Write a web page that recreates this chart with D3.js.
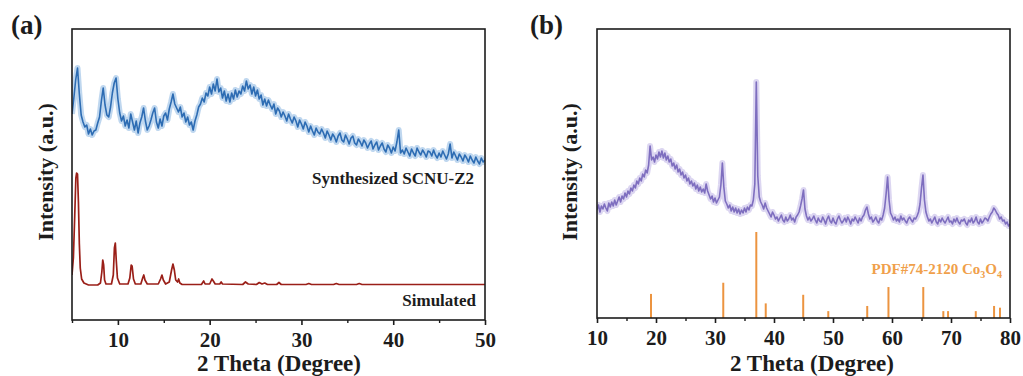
<!DOCTYPE html>
<html>
<head>
<meta charset="utf-8">
<script src="https://cdn.jsdelivr.net/npm/d3@7"></script>
<style>
  body { margin: 0; background: #fff; }
  svg text { font-family: "Liberation Serif", "Times New Roman", serif; font-weight: bold; }
</style>
</head>
<body>
<svg id="chart" width="1023" height="376"></svg>
<script>
// ---------------- Panel (a): SCNU-Z2 ----------------
// Measured pattern, uniform 2θ scan
const scanA = { start: 5, step: 0.2 };
const synthesizedZ2 = [
  206, 222, 240, 252, 226,
  205, 198, 193, 195, 186,
  191, 185, 189, 190, 197,
  203, 219, 232, 215, 205,
  203, 213, 227, 237, 242,
  221, 207, 199, 204, 194,
  200, 192, 206, 198, 190,
  199, 187, 197, 203, 212,
  199, 190, 194, 200, 207,
  212, 198, 192, 201, 194,
  204, 207, 200, 211, 218,
  226, 216, 212, 208, 213,
  203, 207, 198, 203, 195,
  198, 190, 199, 205, 213,
  216, 222, 218, 227, 224,
  233, 226, 236, 229, 241,
  228, 232, 222, 229, 219,
  226, 218, 227, 221, 230,
  223, 229, 226, 234, 229,
  239, 231, 235, 226, 233,
  224, 230, 221, 225, 215,
  221, 214, 220, 215, 211,
  216, 206, 212, 209, 203,
  208, 204, 199, 206, 201,
  197, 203, 199, 193, 200,
  196, 191, 198, 194, 188,
  194, 189, 185, 192, 188,
  186, 191, 187, 182, 189,
  185, 180, 186, 183, 178,
  184, 187, 180, 178, 185,
  181, 176, 182, 184, 177,
  175, 181, 178, 174, 180,
  177, 172, 176, 179, 171,
  175, 178, 170, 174, 177,
  171, 168, 175, 172, 167,
  173, 169, 178, 190, 167,
  170, 166, 172, 168, 164,
  171, 167, 164, 172, 168,
  165, 170, 167, 163, 169,
  168, 164, 170, 165, 162,
  167, 163, 169, 165, 161,
  166, 176, 162, 168, 164,
  160, 166, 163, 159, 165,
  162, 158, 164, 160, 157,
  163, 159, 156, 162, 158,
  160
];

// Simulated pattern from the single-crystal structure
const simulatedTheta = [
  5.0, 5.15, 5.3, 5.42, 5.5, 5.6, 5.7, 5.8, 5.9, 6.05, 6.3, 6.8,
  7.8, 8.1, 8.25, 8.35, 8.45, 8.55, 8.7,
  9.3, 9.5, 9.62, 9.72, 9.82, 9.95, 10.2,
  11.1, 11.3, 11.45, 11.55, 11.7, 11.9,
  12.5, 12.7, 12.82, 12.95, 13.2,
  14.4, 14.65, 14.8, 14.95, 15.2,
  15.6, 15.85, 16.0, 16.15, 16.3, 16.5, 16.62, 16.75, 17.0,
  19.1, 19.35, 19.5, 20.0, 20.25, 20.4, 20.6, 21.1, 21.25, 21.4,
  23.6, 23.9, 24.2, 25.1, 25.4, 25.7, 26.0, 26.3,
  27.3, 27.55, 27.8, 30.5, 30.8, 31.1, 33.5, 33.8, 34.1,
  36.0, 36.3, 36.6, 50.0
];
const simulatedIntensity = [
  45, 62, 105, 142, 147, 146, 118, 76, 52, 41, 37, 35,
  35, 37, 48, 60, 55, 40, 36,
  36, 45, 72, 77, 60, 42, 36,
  36, 42, 55, 54, 41, 36,
  36, 42, 45, 40, 36,
  36, 41, 45, 40, 36,
  38, 50, 56, 50, 40, 38, 41, 37, 35.5,
  35.5, 39, 36, 36, 41, 39, 36, 36, 38, 36,
  35.5, 38, 36, 35.5, 37.5, 36, 37, 35.5,
  35.5, 37.5, 35.5, 35.5, 36.5, 35.5, 35.5, 36.5, 35.5,
  35.5, 36.5, 35.5, 35.5
];
const ticksA = [10, 20, 30, 40, 50];
const minorTicksA = [5, 15, 25, 35, 45];

// ---------------- Panel (b): Co3O4 ----------------
const scanB = { start: 10, step: 0.25 };
const co3o4Pattern = [
  108, 113, 106, 112,   109, 114, 110, 107,   115, 111, 116, 112,
  118, 113, 117, 121,   116, 122, 119, 125,   121, 127, 124, 130,
  127, 133, 130, 137,   134, 140, 137, 144,   141, 148, 145, 153,
  172, 158, 161, 156,   163, 159, 166, 161,   167, 160, 165, 158,
  162, 156, 159, 152,   155, 149, 153, 146,   149, 143, 146, 140,
  143, 137, 140, 134,   137, 132, 135, 129,   133, 127, 131, 126,
  129, 125, 134, 127,   123, 119, 122, 116,   120, 115, 118, 121,
  133, 155, 131, 117,   114, 110, 113, 107,   111, 106, 110, 105,
  109, 104, 108, 105,   110, 106, 111, 108,   113, 112, 118, 134,
  236, 142, 121, 116,   113, 109, 115, 110,   107, 104, 101, 106,
  103,  99, 101,  97,   100, 103,  98,  96,   101,  97,  99, 103,
   98, 100,  96, 101,   103, 106, 112, 119,   128, 109, 102,  98,
  101,  97,  99, 102,    98,  95, 100,  97,    96, 101,  98,  94,
   99, 102,  97,  95,   100,  96,  94,  99,   102,  98,  95,  97,
  100,  96, 101,  98,    94,  99,  97, 101,    98,  95, 100,  97,
  101, 103, 108, 111,   104,  99, 101,  96,    98, 101,  97,  95,
  100,  98, 103, 110,   124, 141, 118, 105,   102,  98, 101,  97,
   99,  96, 102,  98,   100,  97,  95,  99,   101,  98,  96, 100,
   99, 102, 106, 114,   130, 143, 118, 106,   101,  97,  99,  95,
   98, 101,  96,  94,    99,  96, 100,  97,    95,  98, 101,  96,
   97,  94,  99,  96,   100,  96,  94,  98,    97,  99,  95,  93,
   98,  96, 100,  95,    97, 101,  96,  94,    99,  95,  97, 100,
   99,  97, 101, 104,   106, 110, 108, 105,   103,  99, 101,  97,
   98,  94,  96,  92,
   94
];
// Reference pattern PDF#74-2120 (Co3O4), relative intensities
const pdfTheta = [19.15, 31.4, 37.0, 38.6, 44.95, 49.2, 55.8, 59.4, 65.3, 68.7, 69.5, 74.2, 77.3, 78.3];
const pdfIntensity = [28, 41, 100, 17, 27, 8, 14, 36, 36, 8, 8, 8, 14, 12];
const ticksB = [10, 20, 30, 40, 50, 60, 70, 80];
const minorTicksB = [15, 25, 35, 45, 55, 65, 75];

// ---------------- drawing ----------------
const svg = d3.select("#chart");
const ink = "#1c1c1c";

function scanPoints(scan, values) {
  return values.map((v, i) => [scan.start + i * scan.step, v]);
}

function panelFrame(id, box, xDomain, yDomain) {
  const x = d3.scaleLinear().domain(xDomain).range([box.left, box.right]);
  const y = d3.scaleLinear().domain(yDomain).range([box.bottom, box.top]);
  svg.append("clipPath").attr("id", id)
    .append("rect").attr("x", box.left).attr("y", box.top)
    .attr("width", box.right - box.left).attr("height", box.bottom - box.top);
  return { x, y };
}

function drawAxis(box, x, major, minor) {
  const gMinor = svg.append("g").attr("transform", `translate(0,${box.bottom})`)
    .call(d3.axisBottom(x).tickValues(minor).tickSize(3).tickSizeOuter(0).tickFormat(""));
  gMinor.select(".domain").remove();
  gMinor.selectAll("line").attr("stroke", ink).attr("stroke-width", 1.4);

  const g = svg.append("g").attr("transform", `translate(0,${box.bottom})`)
    .call(d3.axisBottom(x).tickValues(major).tickSize(5).tickSizeOuter(0)
      .tickPadding(7).tickFormat(d3.format("d")));
  g.select(".domain").remove();
  g.selectAll("line").attr("stroke", ink).attr("stroke-width", 1.6);
  g.selectAll("text").attr("font-size", 21).attr("fill", ink);
}

function drawBox(box) {
  svg.append("rect").attr("x", box.left).attr("y", box.top)
    .attr("width", box.right - box.left).attr("height", box.bottom - box.top)
    .attr("fill", "none").attr("stroke", ink).attr("stroke-width", 1.6);
}

function noisyLine(clipId, pts, x, y, color, halo) {
  const line = d3.line().x(d => x(d[0])).y(d => y(d[1]));
  const g = svg.append("g").attr("clip-path", `url(#${clipId})`);
  g.append("path").attr("d", line(pts)).attr("fill", "none")
    .attr("stroke", halo).attr("stroke-width", 6).attr("stroke-opacity", 0.4)
    .attr("stroke-linejoin", "round");
  g.append("path").attr("d", line(pts)).attr("fill", "none")
    .attr("stroke", color).attr("stroke-width", 1.6).attr("stroke-linejoin", "round");
}

function titles(box, letter, letterX, xTitleX, yTitleX) {
  svg.append("text").attr("x", letterX).attr("y", 34).attr("font-size", 27)
    .attr("fill", ink).text(letter);
  svg.append("text").attr("x", xTitleX).attr("y", 371).attr("text-anchor", "middle")
    .attr("font-size", 23).attr("fill", ink).text("2 Theta (Degree)");
  svg.append("text").attr("transform", `translate(${yTitleX},172) rotate(-90)`)
    .attr("text-anchor", "middle").attr("font-size", 22).attr("fill", ink)
    .text("Intensity (a.u.)");
}

// Panel (a)
const boxA = { left: 72, right: 485, top: 29, bottom: 320 };
const A = panelFrame("clipA", boxA, [5, 50], [0, 291]);
noisyLine("clipA", scanPoints(scanA, synthesizedZ2), A.x, A.y, "#2d6cb3", "#5e9bd8");
svg.append("g").attr("clip-path", "url(#clipA)")
  .append("path")
  .attr("d", d3.line().x(d => A.x(d[0])).y(d => A.y(d[1]))(
    simulatedTheta.map((t, i) => [t, simulatedIntensity[i]])))
  .attr("fill", "none").attr("stroke", "#9a1f18").attr("stroke-width", 1.7)
  .attr("stroke-linejoin", "round");
drawBox(boxA);
drawAxis(boxA, A.x, ticksA, minorTicksA);
titles(boxA, "(a)", 11, 279, 53);
svg.append("text").attr("x", 474).attr("y", 184).attr("text-anchor", "end")
  .attr("font-size", 17).attr("fill", ink).text("Synthesized SCNU-Z2");
svg.append("text").attr("x", 476).attr("y", 306).attr("text-anchor", "end")
  .attr("font-size", 17).attr("fill", ink).text("Simulated");

// Panel (b)
const boxB = { left: 597, right: 1010, top: 29, bottom: 318 };
const B = panelFrame("clipB", boxB, [10, 80], [0, 289]);
noisyLine("clipB", scanPoints(scanB, co3o4Pattern), B.x, B.y, "#7e6ebf", "#a799dc");
const yStick = d3.scaleLinear().domain([0, 100]).range([B.y(0), B.y(86)]);
svg.append("g").attr("clip-path", "url(#clipB)")
  .selectAll("line").data(pdfTheta).join("line")
  .attr("x1", d => B.x(d)).attr("x2", d => B.x(d))
  .attr("y1", yStick(0)).attr("y2", (d, i) => yStick(pdfIntensity[i]))
  .attr("stroke", "#ec9440").attr("stroke-width", 2);
drawBox(boxB);
drawAxis(boxB, B.x, ticksB, minorTicksB);
titles(boxB, "(b)", 530, 812, 577);
const pdfLabel = svg.append("text").attr("x", 1002).attr("y", 274).attr("text-anchor", "end")
  .attr("font-size", 15).attr("fill", "#f0a04a");
pdfLabel.append("tspan").text("PDF#74-2120 Co");
pdfLabel.append("tspan").attr("font-size", 10).attr("dy", 4).text("3");
pdfLabel.append("tspan").attr("dy", -4).text("O");
pdfLabel.append("tspan").attr("font-size", 10).attr("dy", 4).text("4");
</script>
</body>
</html>
